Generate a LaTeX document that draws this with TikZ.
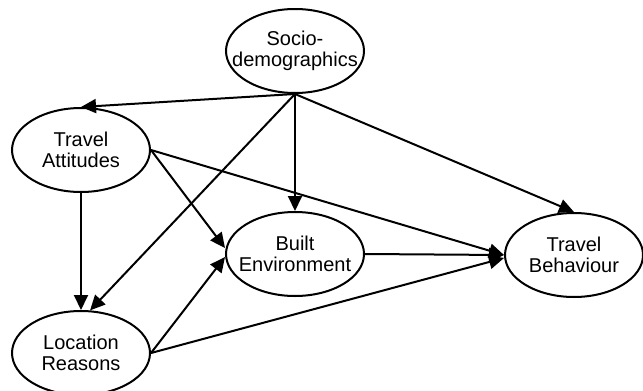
\documentclass[tikz,border=0pt]{standalone}
\usepackage{fontspec}
\setmainfont{Liberation Sans}
\usetikzlibrary{shapes.geometric,arrows.meta}
\tikzset{
  var/.style={draw, ellipse, line width=2pt, minimum width=138pt, minimum height=84pt, inner xsep=-15pt, inner ysep=0pt, align=center, font=\fontsize{20}{21.5}\selectfont},
  link/.style={line width=2pt, -{Triangle[length=15pt,width=14pt]}}
}
\begin{document}
\begin{tikzpicture}[x=1pt,y=1pt]
\useasboundingbox (0,0) rectangle (643,-391);
\node[var] (soc) at (295,-51) {Socio-\\demographics};
\node[var] (ta) at (81,-150) {Travel\\Attitudes};
\node[var] (be) at (295,-254) {Built\\Environment};
\node[var] (tb) at (574,-255) {Travel\\Behaviour};
\node[var] (lr) at (81,-353) {Location\\Reasons};
\draw[link] (soc.south) -- (ta.north);
\draw[link] (soc.south) -- (lr.78);
\draw[link] (soc.south) -- (be.north);
\draw[link] (soc.south) -- (tb.north);
\draw[link] (ta.east) -- ([yshift=6pt]be.west);
\draw[link] (ta.east) -- (tb.west);
\draw[link] (ta.south) -- (lr.north);
\draw[link] (lr.east) -- ([yshift=-3pt]be.west);
\draw[link] (lr.east) -- ([yshift=-3pt]tb.west);
\draw[link] (be.east) -- (tb.west);
\end{tikzpicture}
\end{document}
